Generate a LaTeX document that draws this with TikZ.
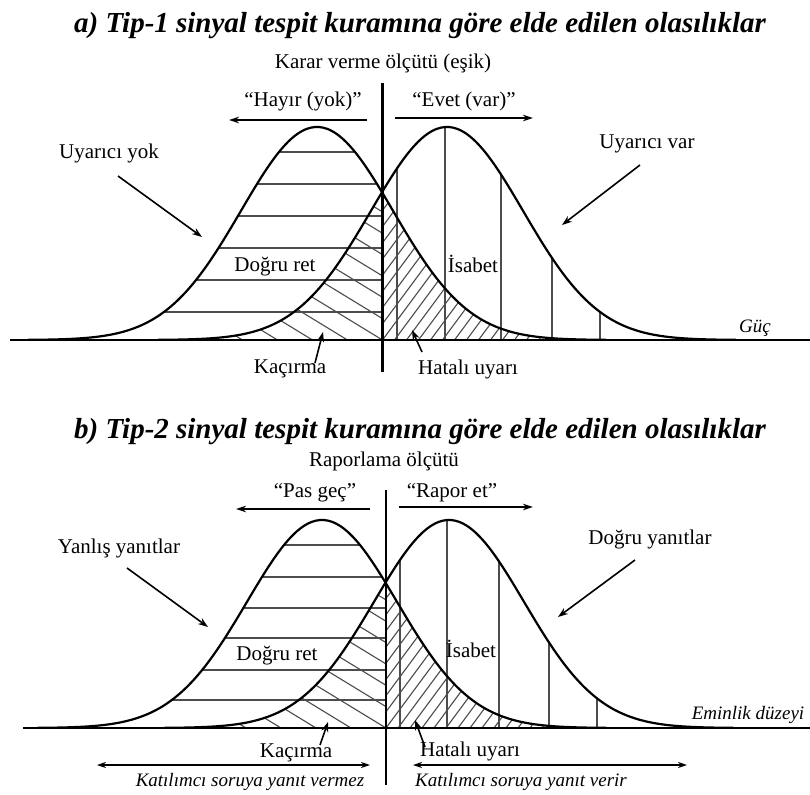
\documentclass[tikz,border=0pt]{standalone}
\usepackage{fontspec}
\setmainfont{Liberation Serif}
\usetikzlibrary{arrows.meta}
\newcommand\gcurve[4]{plot[domain={#1-3.8*#4}:{#1+3.8*#4}, samples=140, smooth] (\x, {#2 - #3*exp(-0.5*((\x-#1)/#4)^2)})}
\begin{document}
\begin{tikzpicture}[x=1pt,y=-1pt,
  lbl/.style={font=\fontsize{21}{24}\selectfont, inner sep=0pt, anchor=base},
  ilbl/.style={font=\fontsize{19}{22}\selectfont\itshape, inner sep=0pt, anchor=base},
  ttl/.style={font=\fontsize{29}{33}\selectfont\bfseries\itshape, inner sep=0pt, anchor=base},
  curve/.style={line width=2.2pt, line join=round},
  axis/.style={line width=1.8pt},
  thr/.style={line width=2.8pt},
  hatch/.style={line width=1.1pt, draw=black!70},
  ptr/.style={line width=1.6pt, -{Stealth[length=10pt,width=7pt]}},
  dirarr/.style={line width=1.6pt, -{Stealth[length=10pt,width=6.5pt]}},
  dblarr/.style={line width=1.4pt, {Stealth[length=9pt,width=6pt]}-{Stealth[length=9pt,width=6pt]}},
]
\useasboundingbox[fill=white] (0,0) rectangle (810,794);

%%%%%%%%%%%%%%%% PANEL A %%%%%%%%%%%%%%%%
\node[ttl] (titleA) at (420,33) {a) Tip-1 sinyal tespit kuramına göre elde edilen olasılıklar};

% Dogru ret hatch
\begin{scope}
  \clip (0,0) rectangle (382.5,340);
  \clip \gcurve{317}{340}{213}{76} -- cycle;
  \foreach \yy in {152,184,216,248,280,312} \draw[hatch] (0,\yy) -- (400,\yy);
\end{scope}
% Kacirma hatch
\begin{scope}
  \clip (0,0) rectangle (382.5,340);
  \clip \gcurve{447}{340}{213}{76} -- cycle;
  \foreach \k in {-10,...,6} \draw[hatch] ({382.5+35*\k-300},{340-183}) -- ({382.5+35*\k+50},{340+30.5});
\end{scope}
% Hatali uyari hatch
\begin{scope}
  \clip (382.5,0) rectangle (810,340);
  \clip \gcurve{317}{340}{213}{76} -- cycle;
  \foreach \k in {-25,...,20} \draw[hatch] ({382.5+12*\k-30},{340+40.5}) -- ({382.5+12*\k+200},{340-270});
\end{scope}
% Isabet verticals
\begin{scope}
  \clip (382.5,0) rectangle (810,340);
  \clip \gcurve{447}{340}{213}{76} -- cycle;
  \foreach \xx in {397,445,501,552,600} \draw[hatch] (\xx,0) -- (\xx,340);
\end{scope}

\draw[axis] (10,340) -- (810,340);
\draw[curve] \gcurve{317}{340}{213}{76};
\draw[curve] \gcurve{447}{340}{213}{76};
\draw[thr] (382.5,83) -- (382.5,372);

\node[lbl] (critA) at (383,69) {Karar verme ölçütü (eşik)};
\node[lbl] (noA) at (303,107) {“Hayır (yok)”};
\node[lbl] (yesA) at (464,107) {“Evet (var)”};
\coordinate (noAs) at (367,120); \coordinate (noAe) at (229,120);
\coordinate (yesAs) at (395,118); \coordinate (yesAe) at (533,118);
\draw[dirarr] (noAs) -- (noAe);
\draw[dirarr] (yesAs) -- (yesAe);

\node[lbl] (uyYok) at (109,159) {Uyarıcı yok};
\node[lbl] (dretA) at (275,271) {Doğru ret};
\node[lbl] (kacA) at (290,373) {Kaçırma};
\node[lbl] (uyVar) at (647,149) {Uyarıcı var};
\node[lbl] (isbA) at (473,272) {İsabet};
\node[ilbl] (gucA) at (755,332) {Güç};
\node[lbl] (hatA) at (468,374) {Hatalı uyarı};

\coordinate (uyYokS) at (118,176); \coordinate (uyYokE) at (202,237);
\coordinate (kacAS) at (315,363); \coordinate (kacAE) at (323,332);
\coordinate (uyVarS) at (640,165); \coordinate (uyVarE) at (562,225);
\coordinate (hatAS) at (422,352); \coordinate (hatAE) at (412,330);
\draw[ptr] (uyYokS) -- (uyYokE);
\draw[ptr] (kacAS) -- (kacAE);
\draw[ptr] (uyVarS) -- (uyVarE);
\draw[ptr] (hatAS) -- (hatAE);

%%%%%%%%%%%%%%%% PANEL B %%%%%%%%%%%%%%%%
\node[ttl] (titleB) at (420,438) {b) Tip-2 sinyal tespit kuramına göre elde edilen olasılıklar};

\begin{scope}
  \clip (0,400) rectangle (386,728);
  \clip \gcurve{322}{728}{208}{75} -- cycle;
  \foreach \yy in {545,577,608,638,670,700} \draw[hatch] (0,\yy) -- (400,\yy);
\end{scope}
\begin{scope}
  \clip (0,400) rectangle (386,728);
  \clip \gcurve{449}{728}{208}{75} -- cycle;
  \foreach \k in {-10,...,6} \draw[hatch] ({386+35*\k-300},{728-183}) -- ({386+35*\k+50},{728+30.5});
\end{scope}
\begin{scope}
  \clip (386,400) rectangle (810,728);
  \clip \gcurve{322}{728}{208}{75} -- cycle;
  \foreach \k in {-25,...,20} \draw[hatch] ({386+12*\k-30},{728+40.5}) -- ({386+12*\k+200},{728-270});
\end{scope}
\begin{scope}
  \clip (386,400) rectangle (810,728);
  \clip \gcurve{449}{728}{208}{75} -- cycle;
  \foreach \xx in {400,447,499,549,597} \draw[hatch] (\xx,400) -- (\xx,728);
\end{scope}

\draw[axis] (23,728) -- (810,728);
\draw[curve] \gcurve{322}{728}{208}{75};
\draw[curve] \gcurve{449}{728}{208}{75};
\draw[thr] (386,490) -- (386,785);

\node[lbl] (critB) at (384,466) {Raporlama ölçütü};
\node[lbl] (passB) at (315,497) {“Pas geç”};
\node[lbl] (repB) at (452,497) {“Rapor et”};
\coordinate (passBs) at (370,509); \coordinate (passBe) at (236,509);
\coordinate (repBs) at (399,507); \coordinate (repBe) at (533,507);
\draw[dirarr] (passBs) -- (passBe);
\draw[dirarr] (repBs) -- (repBe);

\node[lbl] (yanlis) at (119,553) {Yanlış yanıtlar};
\node[lbl] (dretB) at (277,660) {Doğru ret};
\node[lbl] (kacB) at (296,757) {Kaçırma};
\node[lbl] (dogru) at (650,544) {Doğru yanıtlar};
\node[lbl] (isbB) at (471,657) {İsabet};
\node[ilbl] (emin) at (748,719) {Eminlik düzeyi};
\node[lbl] (hatB) at (470,756) {Hatalı uyarı};
\node[ilbl] (vermez) at (250,786) {Katılımcı soruya yanıt vermez};
\node[ilbl] (verir) at (521,786) {Katılımcı soruya yanıt verir};

\coordinate (yanS) at (127,568); \coordinate (yanE) at (208,627);
\coordinate (kacBS) at (320,745); \coordinate (kacBE) at (328,722);
\coordinate (dogS) at (635,560); \coordinate (dogE) at (558,617);
\coordinate (hatBS) at (425,747); \coordinate (hatBE) at (415,720);
\draw[ptr] (yanS) -- (yanE);
\draw[ptr] (kacBS) -- (kacBE);
\draw[ptr] (dogS) -- (dogE);
\draw[ptr] (hatBS) -- (hatBE);

\coordinate (vmzL) at (97,765); \coordinate (vmzR) at (370,765);
\coordinate (vrL) at (413,765); \coordinate (vrR) at (687,765);
\draw[dblarr] (vmzL) -- (vmzR);
\draw[dblarr] (vrL) -- (vrR);
\end{tikzpicture}
\end{document}
